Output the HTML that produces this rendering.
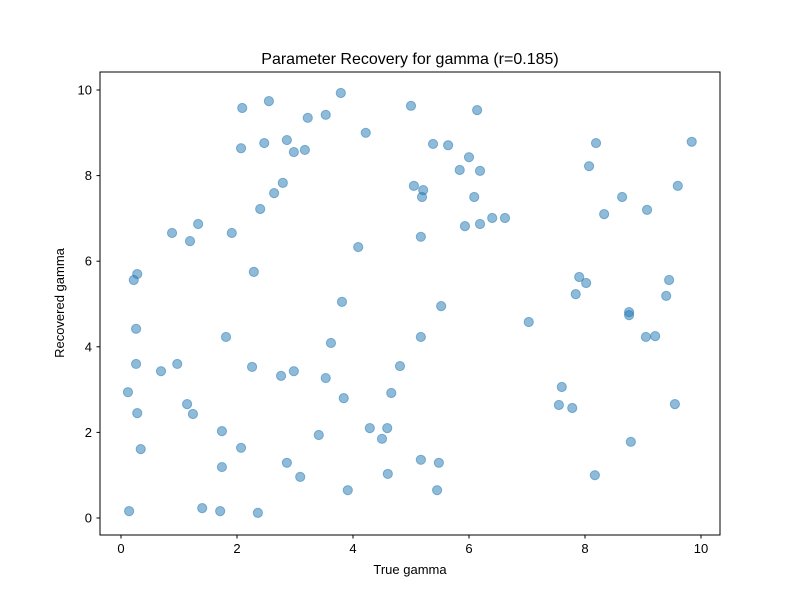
<!DOCTYPE html>
<html><head><meta charset="utf-8"><style>
body{margin:0;background:#fff;}
svg text{font-family:"Liberation Sans","DejaVu Sans",sans-serif;fill:#000;}
</style></head><body>
<svg id="chart" width="800" height="600" viewBox="0 0 800 600">
<rect width="800" height="600" fill="#fff"/>
<text x="410" y="64" font-size="16" text-anchor="middle">Parameter Recovery for gamma (r=0.185)</text>
<g id="ticks"></g>
<g id="points"></g>
<rect x="100" y="72" width="620" height="463" fill="none" stroke="#000" stroke-width="1"/>
<text x="410" y="574" font-size="13" text-anchor="middle">True gamma</text>
<text x="64" y="303" font-size="13" text-anchor="middle" transform="rotate(-90 64 303)">Recovered gamma</text>
</svg>
<script>
const xTicks=[0,2,4,6,8,10];
const yTicks=[0,2,4,6,8,10];
const trueVals=[0.12,0.14,0.22,0.26,0.26,0.28,0.34,0.28,0.69,0.88,0.97,1.14,1.19,1.24,1.33,1.40,1.81,1.91,1.74,1.74,1.71,2.07,2.09,2.07,2.26,2.29,2.36,2.40,2.47,2.55,2.64,2.79,2.76,2.86,2.86,2.98,2.98,3.09,3.17,3.22,3.41,3.53,3.53,3.62,3.79,3.81,3.84,3.91,4.09,4.22,4.29,4.50,4.59,4.60,4.66,4.81,5.00,5.05,5.19,5.21,5.17,5.17,5.17,5.38,5.45,5.48,5.52,5.64,5.84,5.93,6.00,6.09,6.14,6.19,6.19,6.40,6.62,7.03,7.55,7.60,7.78,7.84,7.90,8.02,8.07,8.17,8.19,8.33,8.64,8.76,8.76,8.79,9.05,9.07,9.21,9.40,9.45,9.55,9.60,9.84];
const recVals=[2.94,0.16,5.56,4.42,3.60,2.45,1.61,5.70,3.43,6.66,3.60,2.66,6.47,2.43,6.87,0.23,4.23,6.66,2.03,1.19,0.16,1.64,9.58,8.64,3.53,5.75,0.12,7.22,8.76,9.74,7.59,7.83,3.32,1.29,8.83,3.43,8.55,0.96,8.60,9.35,1.94,9.42,3.27,4.09,9.93,5.05,2.80,0.65,6.33,9.00,2.10,1.85,2.10,1.03,2.92,3.55,9.63,7.76,7.50,7.66,6.57,4.23,1.36,8.74,0.65,1.29,4.95,8.71,8.13,6.82,8.43,7.50,9.53,8.11,6.87,7.01,7.01,4.58,2.64,3.06,2.57,5.23,5.63,5.49,8.22,1.00,8.76,7.10,7.50,4.81,4.74,1.78,4.23,7.20,4.25,5.19,5.56,2.66,7.76,8.79];
const X=v=>121+v*58;
const Y=v=>518-v*42.8;
const NS="http://www.w3.org/2000/svg";
const tg=document.getElementById('ticks');
function mk(tag,attrs,parent){const e=document.createElementNS(NS,tag);for(const k in attrs)e.setAttribute(k,attrs[k]);parent.appendChild(e);return e;}
xTicks.forEach(t=>{
  const l=mk('line',{x1:X(t),x2:X(t),y1:535,y2:538.5,stroke:'#000'},tg);
  
  
  const tx=mk('text',{x:X(t),y:553,'font-size':'13','text-anchor':'middle'},tg);tx.textContent=t;
  
  
});
yTicks.forEach(t=>{
  const l=mk('line',{x1:96.5,x2:100,y1:Y(t),y2:Y(t),stroke:'#000'},tg);
  
  
  const tx=mk('text',{x:92,y:Y(t)+4.5,'font-size':'13','text-anchor':'end'},tg);tx.textContent=t;
  
  
});
const pg=document.getElementById('points');
trueVals.forEach((v,i)=>{
  const c=mk('circle',{cx:X(v),cy:Y(recVals[i]),r:4.6,fill:'#1f77b4','fill-opacity':0.5,stroke:'#1f77b4','stroke-opacity':0.5,'stroke-width':1},pg);
  
  
});
</script>
</body></html>
